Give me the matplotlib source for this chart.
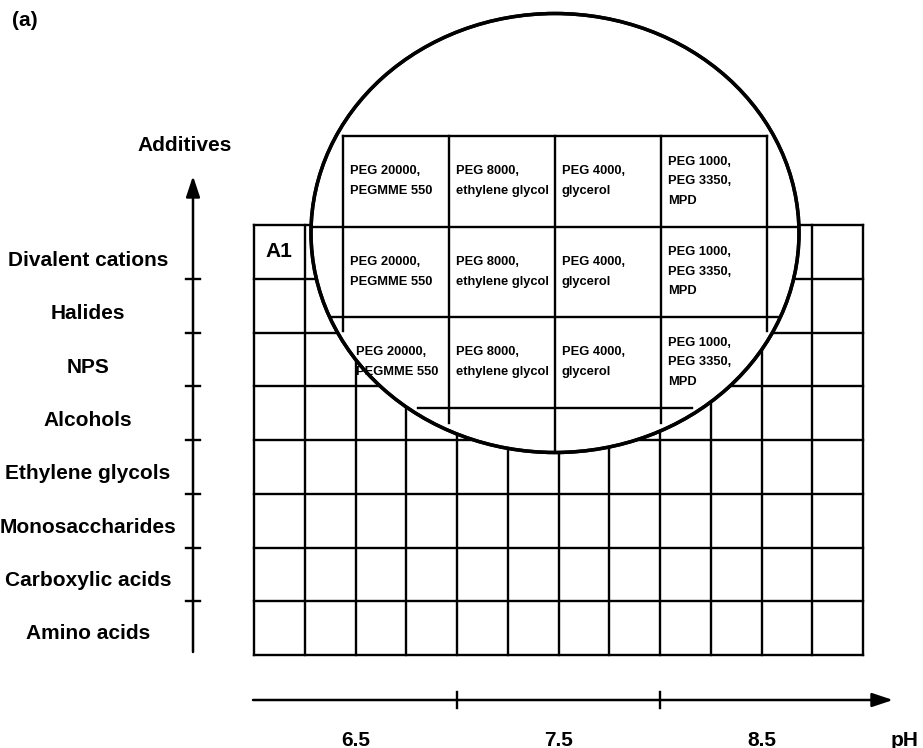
import numpy as np
import matplotlib.pyplot as plt
from matplotlib.patches import Ellipse

plt.rcParams['font.family'] = ['Liberation Sans', 'DejaVu Sans']
plt.rcParams['font.weight'] = 'bold'

# chart content
additives = ['Divalent cations', 'Halides', 'NPS', 'Alcohols',
             'Ethylene glycols', 'Monosaccharides', 'Carboxylic acids', 'Amino acids']
ph_labels = ['6.5', '7.5', '8.5']
n_cols = 12
cols_per_ph = 4
first_well = 'A1'
peg_mixes = ['PEG 20000,\nPEGMME 550', 'PEG 8000,\nethylene glycol',
             'PEG 4000,\nglycerol', 'PEG 1000,\nPEG 3350,\nMPD']
n_zoom_rows = 3

# layout (pixels)
x0, y0 = 254, 225
cw, rh = 50.75, 53.75
n_rows = len(additives)
x1 = x0 + n_cols*cw
y1 = y0 + n_rows*rh
lw = 1.7

fig = plt.figure(figsize=(9.23, 7.48), dpi=100)
ax = fig.add_axes([0, 0, 1, 1])
ax.set_xlim(0, 923)
ax.set_ylim(748, 0)
ax.axis('off')

# plate grid
for i in range(n_cols+1):
    ax.plot([x0+i*cw]*2, [y0, y1], color='k', lw=lw, solid_capstyle='projecting')
for j in range(n_rows+1):
    ax.plot([x0, x1], [y0+j*rh]*2, color='k', lw=lw, solid_capstyle='projecting')
ax.text(x0+cw/2, y0+rh/2, first_well, fontsize=15, ha='center', va='center')

# additive axis
ax.annotate('', xy=(193, 176), xytext=(193, 652),
            arrowprops=dict(arrowstyle='-|>,head_length=0.9,head_width=0.3',
                            lw=1.8, color='k', mutation_scale=14, shrinkA=0, shrinkB=0))
for j in range(1, n_rows):
    ax.plot([186, 200], [y0+j*rh]*2, color='k', lw=lw)
for j, lab in enumerate(additives):
    ax.text(88, y0+(j+0.5)*53.3+9, lab, fontsize=15, ha='center', va='center')
ax.text(185, 145, 'Additives', fontsize=15, ha='center', va='center')

# pH axis
ax.annotate('', xy=(893, 700), xytext=(253, 700),
            arrowprops=dict(arrowstyle='-|>,head_length=0.9,head_width=0.3',
                            lw=1.8, color='k', mutation_scale=14, shrinkA=0, shrinkB=0))
for k in range(1, len(ph_labels)):
    ax.plot([x0+k*cols_per_ph*cw]*2, [692, 708], color='k', lw=lw)
for k, lab in enumerate(ph_labels):
    ax.text(x0+(k+0.5)*cols_per_ph*cw, 740, lab, fontsize=15, ha='center', va='center')
ax.text(905, 740, 'pH', fontsize=15, ha='center', va='center')

ax.text(12, 20, '(a)', fontsize=15, ha='left', va='center')

# magnifier
ell = Ellipse((555, 233), 488, 439, facecolor='white', edgecolor='k', lw=2.5, zorder=5)
ax.add_patch(ell)

ix0, iy0 = 343, 136
icw, irh = 106, 90.5
nc = len(peg_mixes)
ix = [ix0+c*icw for c in range(nc+1)]
iy = [iy0+r*irh for r in range(n_zoom_rows+1)]

segs = [([ix[0], ix[-1]], [iy[0]]*2)]
for r in range(1, n_zoom_rows):
    segs.append(([280, 830], [iy[r]]*2))
segs.append(([418, 692], [iy[-1]]*2))
segs.append(([ix[0]]*2, [iy[0], 331]))
segs.append(([ix[-1]]*2, [iy[0], 331]))
segs.append(([ix[1]]*2, [iy[0], 423]))
segs.append(([ix[3]]*2, [iy[0], 423]))
segs.append(([ix[2]]*2, [iy[0], 470]))
for xs, ys in segs:
    ln, = ax.plot(xs, ys, color='k', lw=lw, zorder=6)
    ln.set_clip_path(ell)

for r in range(n_zoom_rows):
    for c, lab in enumerate(peg_mixes):
        dx = 7 if r < n_zoom_rows-1 or c > 0 else 13
        t = ax.text(ix[c]+dx, iy[r]+irh/2, lab, fontsize=9.3, ha='left', va='center',
                    linespacing=1.85, zorder=6, clip_on=True)
        t.set_clip_path(ell)

# outline above inner lines
ax.add_patch(Ellipse((555, 233), 488, 439, facecolor='none', edgecolor='k', lw=2.5, zorder=7))

plt.savefig('out.png', dpi=100)
plt.close('all')
